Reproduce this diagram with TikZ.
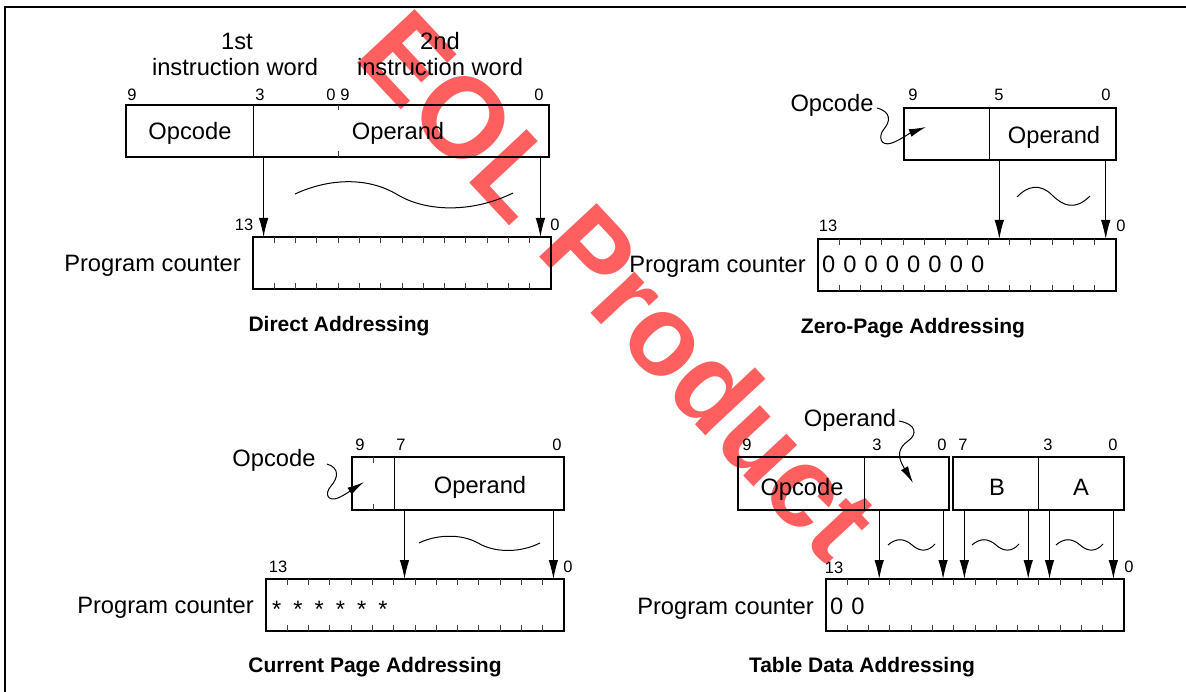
\documentclass[tikz,border=0pt]{standalone}
\usepackage{fontspec}
\setmainfont{Liberation Sans}
\usetikzlibrary{arrows.meta}
\definecolor{wm}{RGB}{255,95,95}
\newcommand\pcticks[3]{%
  \foreach \k in {1,...,13}{%
    \draw[tickline] ({#1+\k*298/14},#2) -- ++(0,6);
    \draw[tickline] ({#1+\k*298/14},#3) -- ++(0,-6);}}
\begin{document}
\begin{tikzpicture}[x=1pt,y=-1pt,
  lbl/.style={font=\fontsize{23.7}{26}\selectfont, inner sep=0pt, text height=17pt, text depth=0pt},
  bit/.style={font=\fontsize{16.5}{18}\selectfont, inner sep=0pt, text height=11.8pt, text depth=0pt},
  ttl/.style={font=\bfseries\fontsize{21}{24}\selectfont, inner sep=0pt, text height=15pt, text depth=0pt},
  box/.style={draw, line width=1.3pt, inner sep=0pt},
  divline/.style={line width=1pt},
  arr/.style={line width=1pt, -{Latex[length=19pt,width=9.5pt]}},
  sarr/.style={line width=1pt, -{Latex[length=17pt,width=8pt]}},
  tickline/.style={line width=0.9pt, draw=black!75},
  wave/.style={line width=1pt},
]
\useasboundingbox (0,0) rectangle (1186,692);
% watermark
\node[font=\bfseries\fontsize{114}{114}\selectfont, text=wm, rotate=-47, inner sep=0pt] (wmk) at (620,284) {EOL Product};
% frame
\draw[line width=1.3pt] (1186,7) -- (5,7) -- (5,692);

%%%%%%%% Direct Addressing
\node[lbl] (d1st) at (237,41) {1st};
\node[lbl] (d1w) at (235,67) {instruction word};
\node[lbl] (d2nd) at (440,41) {2nd};
\node[lbl] (d2w) at (440,67) {instruction word};
\node[bit] (db9) at (132,95) {9};
\node[bit] (db3) at (260,95) {3};
\node[bit] (db0a) at (331,95) {0};
\node[bit] (db9b) at (345,95) {9};
\node[bit] (db0b) at (539,95) {0};
\node[box, minimum width=423pt, minimum height=52pt] (dI) at (337.5,131) {};
\draw[divline] (253,105) -- (253,157);
\draw[tickline] (338,105) -- ++(0,5);
\draw[tickline] (338,157) -- ++(0,-6);
\node[lbl] (dop) at (190,131) {Opcode};
\node[lbl] (doper) at (398,131) {Operand};
\node[box, minimum width=298pt, minimum height=52pt] (dP) at (402,263) {};
\pcticks{253}{237}{289}
\coordinate (da1) at (263.6,157); \coordinate (da1e) at (263.6,237);
\coordinate (da2) at (540.4,157); \coordinate (da2e) at (540.4,237);
\draw[arr] (da1) -- (da1e);
\draw[arr] (da2) -- (da2e);
\draw[wave] (295,194) .. controls (325,180) and (365,175) .. (398,195) .. controls (425,211) and (470,214) .. (513,193);
\node[bit] (d13) at (244,225) {13};
\node[bit] (d0) at (555,225) {0};
\node[lbl, anchor=east] (dpc) at (241,263) {Program counter};
\node[ttl] (dt) at (339,324) {Direct Addressing};

%%%%%%%% Zero-Page Addressing
\node[bit] (zb9) at (913,95) {9};
\node[bit] (zb5) at (999,95) {5};
\node[bit] (zb0) at (1106,95) {0};
\node[box, minimum width=212pt, minimum height=52pt] (zI) at (1010,134) {};
\draw[divline] (989,108) -- (989,160);
\node[lbl] (zop) at (832,103) {Opcode};
\node[lbl] (zoper) at (1054,135) {Operand};
\coordinate (zs) at (877,108); \coordinate (zt) at (926,127);
\draw[sarr] (zs) .. controls (892,112) and (890,122) .. (884,129) .. controls (878,136) and (880,147) .. (892,143) .. controls (900,140) and (910,133) .. (zt);
\node[box, minimum width=298pt, minimum height=52pt] (zP) at (967,265) {};
\pcticks{818}{239}{291}
\coordinate (za1) at (999.3,160); \coordinate (za1e) at (999.3,239);
\coordinate (za2) at (1105.7,160); \coordinate (za2e) at (1105.7,239);
\draw[arr] (za1) -- (za1e);
\draw[arr] (za2) -- (za2e);
\draw[wave] (1017,197) .. controls (1027,186) and (1040,183) .. (1052,195) .. controls (1063,206) and (1075,211) .. (1090,196);
\node[bit] (z13) at (828,226) {13};
\node[bit] (z0) at (1121,226) {0};
\node[lbl, anchor=east] (zpc) at (806,264) {Program counter};
\foreach \i in {0,...,7}{\node[lbl] (zz\i) at ({818+(\i+0.5)*298/14},264) {0};}
\node[ttl] (zt2) at (913,326) {Zero-Page Addressing};

%%%%%%%% Current Page Addressing
\node[bit] (cb9) at (360,445) {9};
\node[bit] (cb7) at (401,445) {7};
\node[bit] (cb0) at (557,445) {0};
\node[box, minimum width=212pt, minimum height=53pt] (cI) at (458,483.5) {};
\draw[divline] (394.4,457) -- (394.4,510);
\draw[tickline] (373.2,457) -- ++(0,6);
\draw[tickline] (373.2,510) -- ++(0,-6);
\node[lbl] (cop) at (274,458) {Opcode};
\node[lbl] (coper) at (480,485) {Operand};
\coordinate (cs) at (327,464); \coordinate (ct) at (364,482);
\draw[sarr] (cs) .. controls (340,468) and (338,478) .. (331,486) .. controls (324,494) and (328,502) .. (338,498) .. controls (345,495) and (353,489) .. (ct);
\node[box, minimum width=298pt, minimum height=52pt] (cP) at (415,605) {};
\pcticks{266}{579}{631}
\coordinate (ca1) at (404.5,510); \coordinate (ca1e) at (404.5,579);
\coordinate (ca2) at (553.4,510); \coordinate (ca2e) at (553.4,579);
\draw[arr] (ca1) -- (ca1e);
\draw[arr] (ca2) -- (ca2e);
\draw[wave] (419,543) .. controls (435,535) and (460,533) .. (478,543) .. controls (495,553) and (520,553) .. (540,543);
\node[bit] (c13) at (278,567) {13};
\node[bit] (c0) at (568,567) {0};
\node[lbl, anchor=east] (cpc) at (254,605) {Program counter};
\foreach \i in {0,...,5}{\node[lbl, anchor=base] (cs\i) at ({266+(\i+0.5)*298/14},617) {*};}
\node[ttl] (ctt) at (375,665) {Current Page Addressing};

%%%%%%%% Table Data Addressing
\node[bit] (tb9) at (747,445) {9};
\node[bit] (tb3) at (877,445) {3};
\node[bit] (tb0) at (942,445) {0};
\node[bit] (tb7) at (963,445) {7};
\node[bit] (tb3b) at (1048,445) {3};
\node[bit] (tb0b) at (1113,445) {0};
\node[box, minimum width=211pt, minimum height=53pt] (tI1) at (843.5,483.5) {};
\draw[divline] (864.6,457) -- (864.6,510);
\node[box, minimum width=171pt, minimum height=53pt] (tI2) at (1038.5,483.5) {};
\draw[divline] (1038.2,457) -- (1038.2,510);
\node[lbl] (topc) at (802,487) {Opcode};
\node[lbl] (tB) at (997,487) {B};
\node[lbl] (tA) at (1081,487) {A};
\node[lbl] (toper) at (850,418) {Operand};
\coordinate (ts) at (899,421); \coordinate (tt) at (913,483);
\draw[sarr] (ts) .. controls (916,424) and (918,434) .. (908,441) .. controls (898,448) and (898,456) .. (902,464) .. controls (905,470) and (909,476) .. (tt);
\node[box, minimum width=298pt, minimum height=52pt] (tP) at (975,605) {};
\pcticks{826}{579}{631}
\foreach \i/\n in {2/1,5/2,6/3,9/4,10/5,13/6}{%
  \coordinate (ta\n) at ({826+(\i+0.5)*298/14},510);
  \coordinate (ta\n e) at ({826+(\i+0.5)*298/14},579);
  \draw[arr] (ta\n) -- (ta\n e);}
\foreach \x in {888,972,1056}{%
  \draw[wave] (\x,545) .. controls (\x+8,538) and (\x+16,538) .. (\x+24,545) .. controls (\x+32,552) and (\x+40,552) .. (\x+47,544);}
\node[bit] (t13) at (834,568) {13};
\node[bit] (t0) at (1129,567) {0};
\node[lbl, anchor=east] (tpc) at (814,606) {Program counter};
\node[lbl] (tz0) at ({826+0.5*298/14},606) {0};
\node[lbl] (tz1) at ({826+1.5*298/14},606) {0};
\node[ttl] (ttt) at (862,665) {Table Data Addressing};
\end{tikzpicture}
\end{document}
